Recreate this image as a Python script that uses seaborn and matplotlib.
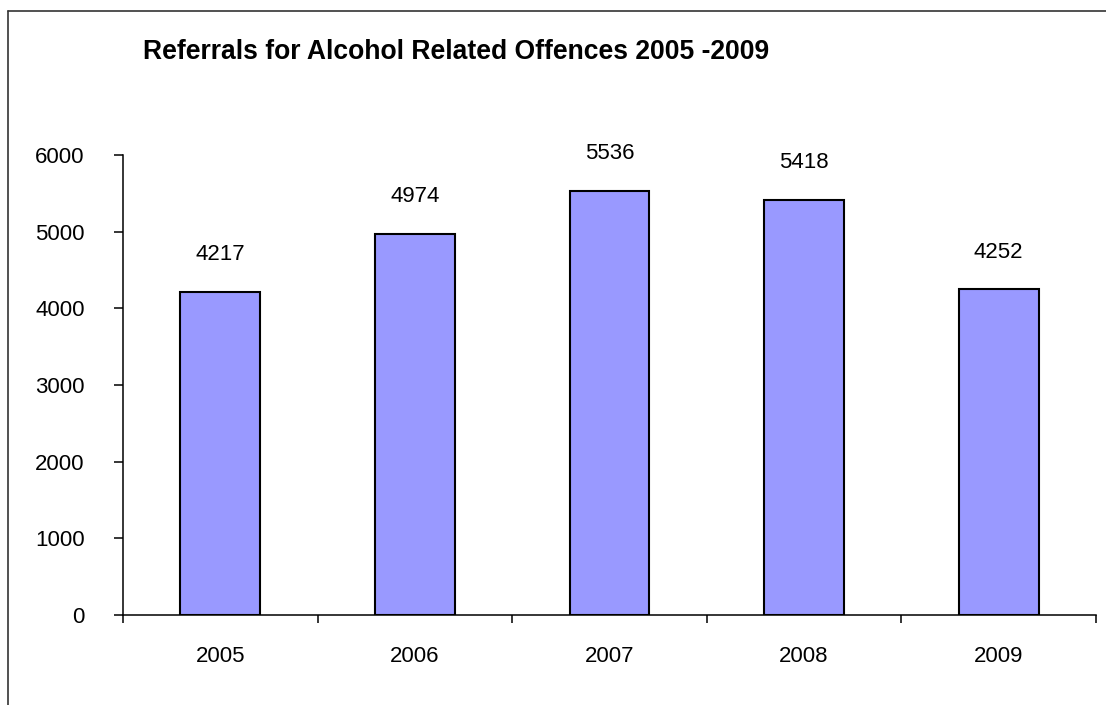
import matplotlib
matplotlib.use("Agg")
import matplotlib.pyplot as plt
import seaborn as sns
import pandas as pd
from matplotlib.lines import Line2D
from matplotlib.ticker import FixedLocator

years = ["2005", "2006", "2007", "2008", "2009"]
referrals = [4217, 4974, 5536, 5418, 4252]
yticks = [0, 1000, 2000, 3000, 4000, 5000, 6000]
title = "Referrals for Alcohol Related Offences 2005 -2009"

sns.set_style("white")
plt.rcParams['font.family'] = ['Liberation Sans', 'DejaVu Sans']
plt.rcParams['text.color'] = 'black'
plt.rcParams['xtick.color'] = 'black'
plt.rcParams['ytick.color'] = 'black'
plt.rcParams['xtick.labelcolor'] = 'black'
plt.rcParams['ytick.labelcolor'] = 'black'

W, H = 1106, 705
fig = plt.figure(figsize=(W / 100, H / 100), dpi=100)
ax = fig.add_axes([123 / W, 90 / H, 973 / W, 460 / H])

df = pd.DataFrame({"year": years, "n": referrals})
sns.barplot(data=df, x="year", y="n", ax=ax, color="#9999FF", saturation=1,
            width=0.41, edgecolor="black", linewidth=1.5)

ax.set_xlim(-0.5, len(years) - 0.5)
ax.set_ylim(0, 6000)
ax.set_yticks(yticks)
ax.set_xlabel("")
ax.set_ylabel("")

for i, v in enumerate(referrals):
    ax.annotate(str(v), (i, v), xytext=(0, 26.6), textcoords="offset points",
                ha="center", va="center", fontsize=16, color="black")

for s in ["top", "right"]:
    ax.spines[s].set_visible(False)
for s in ["left", "bottom"]:
    ax.spines[s].set_color("black")
    ax.spines[s].set_linewidth(1.1)

ax.tick_params(axis="x", which="major", length=0, pad=22, labelsize=16, labelcolor="black")
ax.xaxis.set_minor_locator(FixedLocator([i - 0.5 for i in range(len(years) + 1)]))
ax.tick_params(axis="x", which="minor", length=6, width=1.1, color="black", direction="out", bottom=True)
ax.tick_params(axis="y", which="major", length=6.5, width=1.1, color="black", direction="out",
               left=True, pad=21, labelsize=16, labelcolor="black")

fig.text(143 / W, 1 - 52 / H, title, fontsize=19.1, fontweight="bold", va="center", ha="left",
         color="black")

fig.add_artist(Line2D([8 / W, 1], [1 - 11 / H, 1 - 11 / H], transform=fig.transFigure,
                      color="#333333", linewidth=1.2))
fig.add_artist(Line2D([8 / W, 8 / W], [0, 1 - 11 / H], transform=fig.transFigure,
                      color="#333333", linewidth=1.2))

fig.savefig("out.png", dpi=100)
